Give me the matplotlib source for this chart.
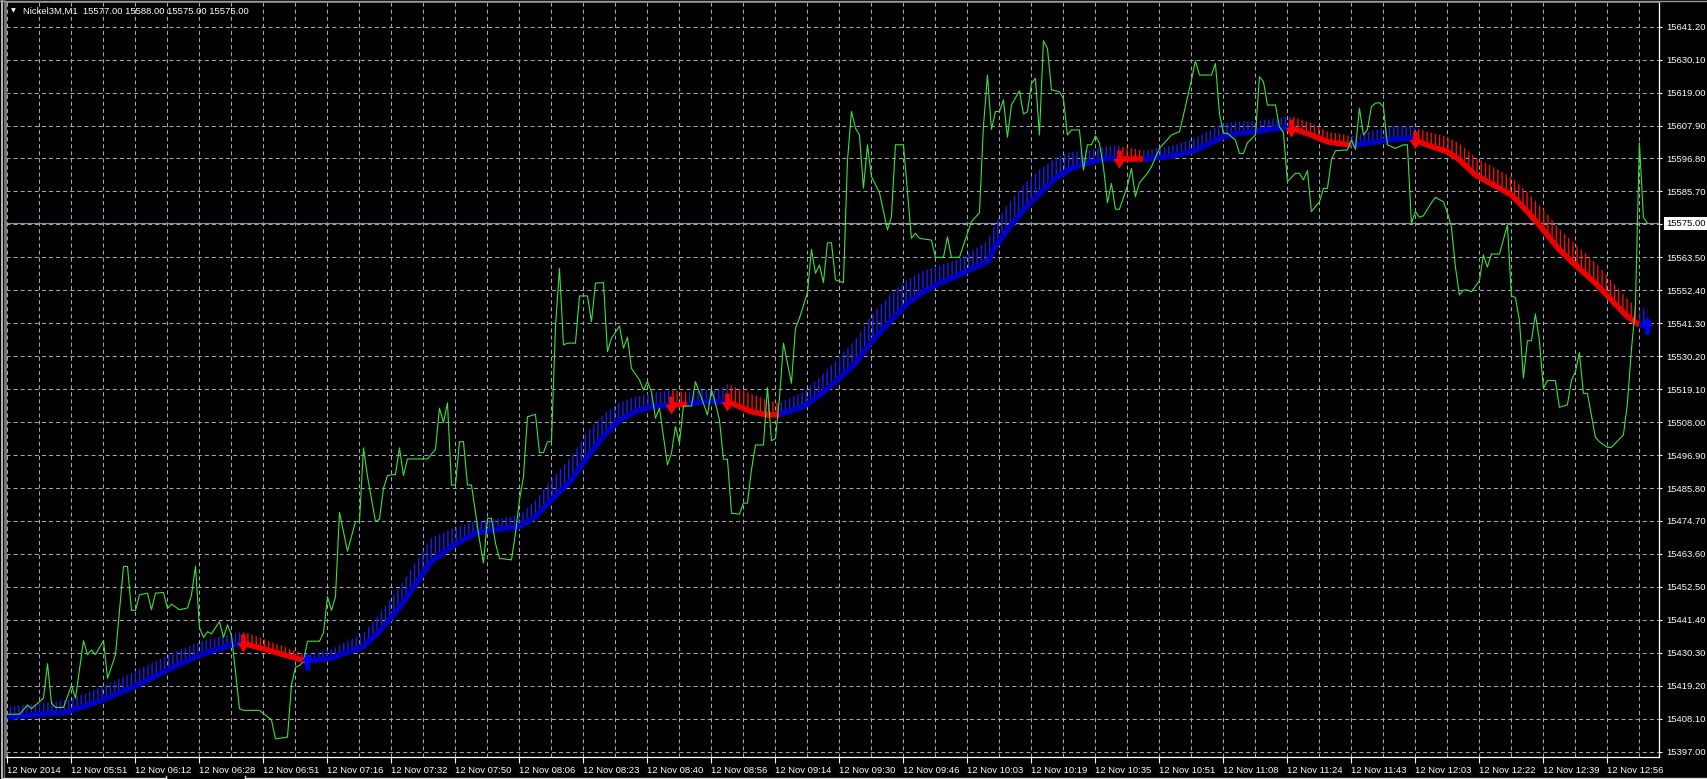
import numpy as np
import matplotlib
matplotlib.use("Agg")
import matplotlib.pyplot as plt
from matplotlib.path import Path
from matplotlib.lines import Line2D

# ---- data (bar index = minute bar, 0 = first bar on screen)
close_bar = [0, 3, 5, 6, 9, 10, 11, 12, 14, 16, 17, 19, 20, 21, 22, 24, 25, 27, 29, 30,
             31, 32, 33, 35, 36, 37, 39, 40, 41, 43, 45, 46, 47, 48, 49, 50, 51, 53, 54, 55,
             56, 58, 59, 63, 66, 67, 70, 71, 72, 73, 74, 75, 78, 79, 80, 81, 82, 83, 85, 87,
             88, 89, 90, 92, 93, 94, 95, 97, 98, 99, 100, 105, 107, 108, 109, 110, 111, 112, 113, 114,
             115, 116, 118, 119, 120, 121, 122, 123, 126, 127, 128, 129, 130, 132, 133, 134, 135, 136, 137, 138,
             139, 140, 142, 143, 145, 146, 147, 149, 150, 151, 153, 154, 155, 156, 158, 159, 160, 161, 162, 163,
             165, 166, 167, 168, 169, 171, 172, 174, 175, 176, 177, 178, 179, 180, 181, 183, 184, 185, 186, 187,
             189, 190, 191, 192, 193, 194, 196, 197, 198, 200, 201, 202, 203, 204, 205, 206, 207, 209, 210, 211,
             212, 213, 214, 215, 216, 218, 220, 221, 222, 224, 226, 227, 228, 231, 232, 234, 235, 236, 238, 240,
             241, 243, 244, 245, 246, 247, 248, 249, 250, 251, 253, 254, 255, 256, 257, 258, 259, 260, 261, 263,
             264, 265, 266, 268, 269, 270, 271, 272, 273, 274, 275, 276, 277, 278, 280, 281, 282, 283, 285, 286,
             288, 291, 293, 294, 296, 297, 298, 301, 302, 303, 304, 305, 307, 308, 309, 310, 312, 313, 314, 315,
             317, 318, 319, 320, 322, 323, 324, 325, 326, 327, 328, 329, 330, 331, 332, 335, 336, 337, 338, 339,
             340, 341, 342, 343, 344, 345, 347, 349, 350, 351, 352, 353, 354, 356, 357, 359, 360, 361, 362, 363,
             364, 365, 366, 368, 369, 370, 371, 373, 375, 376, 377, 378, 379, 380, 381, 382, 383, 384, 385, 387,
             388, 390, 391, 392, 393, 394, 395, 397, 398, 400, 401, 404, 405, 406, 407, 408, 409, 410]
close_price = [15409.6, 15409.6, 15412.7, 15411.5, 15415.0, 15426.6, 15413.3, 15411.9, 15411.9, 15419.3,
               15415.0, 15434.4, 15429.7, 15431.2, 15429.7, 15434.4, 15421.7, 15429.6, 15459.4, 15459.4,
               15444.6, 15444.6, 15449.8, 15450.4, 15444.8, 15450.4, 15450.6, 15445.2, 15446.7, 15444.8,
               15445.4, 15449.8, 15459.4, 15438.8, 15435.5, 15437.4, 15436.7, 15440.8, 15435.5, 15439.7,
               15436.2, 15411.5, 15410.9, 15410.9, 15407.7, 15401.3, 15401.9, 15419.6, 15425.4, 15426.0,
               15427.4, 15434.2, 15434.2, 15437.0, 15449.2, 15444.6, 15449.2, 15477.6, 15464.5, 15474.5,
               15474.5, 15499.3, 15489.8, 15474.5, 15475.3, 15485.7, 15490.0, 15490.4, 15499.3, 15490.0,
               15495.6, 15495.6, 15498.8, 15512.7, 15507.8, 15514.5, 15486.8, 15486.8, 15501.4, 15501.4,
               15486.8, 15486.8, 15468.3, 15460.5, 15475.6, 15475.6, 15467.2, 15462.1, 15461.6, 15470.6,
               15481.8, 15489.6, 15509.8, 15510.6, 15497.7, 15497.7, 15501.4, 15501.4, 15540.0, 15559.8,
               15534.0, 15534.6, 15534.6, 15550.5, 15550.5, 15541.8, 15554.8, 15555.0, 15531.7, 15536.2,
               15540.4, 15532.9, 15536.6, 15526.1, 15522.2, 15518.8, 15521.6, 15518.2, 15509.3, 15512.7,
               15493.6, 15497.5, 15506.5, 15500.9, 15513.4, 15513.4, 15521.6, 15514.3, 15510.4, 15518.8,
               15514.3, 15508.7, 15495.5, 15495.5, 15477.3, 15477.0, 15480.7, 15480.7, 15491.9, 15500.3,
               15500.3, 15519.7, 15501.7, 15502.5, 15516.0, 15534.6, 15521.1, 15539.6, 15543.0, 15551.6,
               15566.2, 15558.1, 15560.9, 15555.0, 15568.4, 15568.4, 15555.9, 15555.0, 15596.0, 15612.6,
               15607.0, 15604.7, 15586.8, 15601.4, 15590.7, 15585.3, 15572.7, 15577.2, 15601.4, 15601.4,
               15569.9, 15571.6, 15569.9, 15569.3, 15563.5, 15563.5, 15570.4, 15563.5, 15563.5, 15571.6,
               15575.5, 15578.5, 15607.5, 15624.9, 15606.6, 15612.6, 15612.6, 15616.5, 15603.9, 15614.8,
               15619.6, 15611.8, 15612.5, 15622.1, 15623.8, 15604.7, 15636.5, 15633.9, 15619.9, 15619.3,
               15617.0, 15604.7, 15606.4, 15606.4, 15592.9, 15601.4, 15601.4, 15604.4, 15601.9, 15594.0,
               15581.9, 15588.4, 15579.7, 15579.7, 15587.5, 15593.5, 15583.9, 15588.6, 15591.8, 15594.0,
               15600.2, 15604.7, 15605.8, 15611.4, 15623.2, 15629.7, 15624.9, 15624.9, 15628.8, 15612.0,
               15605.3, 15605.3, 15603.0, 15598.5, 15598.5, 15602.1, 15604.7, 15624.3, 15622.7, 15614.8,
               15614.8, 15607.5, 15605.5, 15589.0, 15591.8, 15591.8, 15589.6, 15592.7, 15578.9, 15580.6,
               15582.2, 15586.7, 15586.7, 15596.3, 15599.4, 15599.7, 15603.0, 15599.9, 15613.7, 15604.7,
               15606.5, 15614.2, 15615.4, 15615.6, 15614.2, 15601.4, 15600.2, 15601.4, 15601.4, 15575.0,
               15578.9, 15577.0, 15577.5, 15581.9, 15583.7, 15582.2, 15578.5, 15573.8, 15560.3, 15550.8,
               15552.5, 15552.5, 15551.9, 15555.6, 15564.3, 15560.2, 15564.6, 15564.6, 15574.4, 15550.5,
               15550.0, 15542.4, 15522.8, 15535.4, 15535.4, 15544.4, 15535.4, 15519.4, 15522.0, 15522.0,
               15513.0, 15513.8, 15522.0, 15525.0, 15531.4, 15517.7, 15517.7, 15502.9, 15501.4, 15499.5,
               15499.5, 15503.7, 15514.3, 15532.3, 15546.9, 15602.1, 15577.0, 15575.0]

# trend indicator: line value and the height of its histogram above the line
ma_bar = [0, 15, 23, 31, 40, 48, 56, 59, 75, 81, 89, 93, 98, 106, 111, 117, 124, 128, 132, 136,
          141, 145, 149, 153, 157, 161, 166, 170, 174, 178, 180, 186, 190, 193, 199, 203, 207, 212, 216, 221,
          225, 229, 233, 237, 241, 245, 247, 250, 254, 258, 262, 266, 271, 275, 278, 284, 291, 296, 300, 304,
          308, 312, 318, 321, 326, 330, 336, 341, 346, 351, 352, 355, 360, 363, 367, 372, 376, 380, 384, 388,
          392, 397, 401, 405, 408, 410]
ma_price = [15408.5, 15410.4, 15414.0, 15418.5, 15424.5, 15429.5, 15433.0, 15433.5, 15427.4, 15428.5,
            15432.4, 15437.5, 15445.5, 15461.0, 15466.0, 15470.6, 15472.2, 15472.8, 15476.1, 15481.8,
            15488.5, 15496.4, 15503.1, 15508.7, 15511.5, 15513.2, 15513.8, 15514.0, 15514.9, 15514.9,
            15514.9, 15511.5, 15510.4, 15510.5, 15513.2, 15517.1, 15521.6, 15527.8, 15535.1, 15542.4,
            15548.0, 15551.9, 15554.8, 15557.0, 15559.5, 15562.0, 15567.1, 15572.7, 15579.4, 15585.0,
            15590.1, 15593.5, 15595.7, 15596.9, 15596.5, 15596.5, 15597.6, 15599.1, 15601.4, 15604.1,
            15605.3, 15605.8, 15607.0, 15607.0, 15604.7, 15602.4, 15601.3, 15602.1, 15603.2, 15603.6,
            15603.0, 15601.3, 15599.1, 15596.3, 15591.2, 15587.5, 15584.5, 15578.9, 15572.7, 15566.0,
            15560.9, 15554.8, 15549.1, 15543.5, 15540.7, 15540.7]
ma_hist = [3.5, 4.0, 4.5, 5.0, 5.0, 4.5, 3.5, 4.0, 2.0, 3.0,
           4.5, 6.0, 7.0, 8.0, 6.0, 4.0, 3.5, 4.0, 5.5, 7.0,
           8.0, 8.5, 7.5, 6.0, 5.0, 4.5, 5.0, 4.0, 4.0, 4.0,
           6.0, 6.0, 5.0, 4.0, 5.0, 6.0, 7.0, 8.0, 9.0, 9.0,
           8.0, 7.0, 6.0, 5.5, 6.0, 7.0, 8.0, 8.5, 8.5, 8.0,
           7.0, 5.5, 4.0, 4.0, 4.5, 3.0, 3.5, 4.0, 4.5, 4.5,
           4.0, 3.5, 3.5, 4.0, 4.0, 3.5, 3.0, 4.0, 4.5, 4.0,
           4.0, 4.5, 5.0, 5.5, 6.0, 6.0, 6.0, 6.5, 7.0, 7.0,
           7.0, 7.0, 6.5, 6.0, 5.0, 6.0]

trend_start = [0, 59, 75, 166, 170, 180, 193, 278, 284, 321, 336, 352, 408]
trend_dir = ["up", "dn", "up", "dn", "up", "dn", "up", "dn", "up", "dn", "up", "dn", "up"]
down_arrow_bars = [59, 166, 180, 278, 321, 352]
up_arrow_bars = [75, 410]

price_ticks = [15397.00, 15408.10, 15419.20, 15430.30, 15441.40, 15452.50, 15463.60, 15474.70,
               15485.80, 15496.90, 15508.00, 15519.10, 15530.20, 15541.30, 15552.40, 15563.50,
               15574.60, 15585.70, 15596.80, 15607.90, 15619.00, 15630.10, 15641.20]
time_labels = ["12 Nov 2014", "12 Nov 05:51", "12 Nov 06:12", "12 Nov 06:28", "12 Nov 06:51",
               "12 Nov 07:16", "12 Nov 07:32", "12 Nov 07:50", "12 Nov 08:06", "12 Nov 08:23",
               "12 Nov 08:40", "12 Nov 08:56", "12 Nov 09:14", "12 Nov 09:30", "12 Nov 09:46",
               "12 Nov 10:03", "12 Nov 10:19", "12 Nov 10:35", "12 Nov 10:51", "12 Nov 11:08",
               "12 Nov 11:24", "12 Nov 11:43", "12 Nov 12:03", "12 Nov 12:22", "12 Nov 12:39",
               "12 Nov 12:56"]
bars_per_label = 16
bid = 15575.00
header = "Nickel3M,M1  15577.00 15588.00 15575.00 15575.00"

# ---- styling
W, H = 1707, 779
FONT = "Liberation Sans"
FS = 6.8
GRID = "#a4a8ad"
plt.rcParams["lines.scale_dashes"] = False
plt.rcParams["hatch.linewidth"] = 1.0

fig = plt.figure(figsize=(W / 100, H / 100), dpi=100, facecolor="black")
ax = fig.add_axes([6 / W, 1 - 757 / H, (1659 - 6) / W, (757 - 2) / H])
ax.set_facecolor("black")
ax.set_xlim(-0.375, 412.9)
ax.set_ylim(15395.2, 15649.5)

# grid: horizontal at every price label, vertical every half label step
label_bars = [i * bars_per_label for i in range(len(time_labels))]
ax.set_xticks(label_bars)
ax.set_xticks([b + bars_per_label / 2 for b in label_bars], minor=True)
ax.set_xticklabels(time_labels)
ax.set_yticks(price_ticks)
ax.set_yticklabels(["" if abs(p - bid) < 1 else f"{p:.2f}" for p in price_ticks])
ax.grid(which="both", color=GRID, linestyle=(0, (2.9, 2.2)), linewidth=0.75, zorder=0)
ax.set_axisbelow(True)

ax.yaxis.tick_right()
ax.tick_params(axis="y", direction="out", length=2.5, width=0.8, color="white",
               labelcolor="white", labelsize=FS, pad=2.5)
ax.tick_params(axis="x", which="major", direction="out", length=4, width=0.8, color="white",
               labelcolor="white", labelsize=FS, pad=2.5)
ax.tick_params(axis="x", which="minor", length=0)
for t in ax.get_xticklabels() + ax.get_yticklabels():
    t.set_fontfamily(FONT)
for t in ax.get_xticklabels():
    t.set_horizontalalignment("left")

for side in ("right", "bottom"):
    ax.spines[side].set_color("white")
    ax.spines[side].set_linewidth(0.9)
for side in ("left", "top"):
    ax.spines[side].set_color("#8c8c8c")
    ax.spines[side].set_linewidth(1.2)

# bid line
ax.axhline(bid, color="#8a96a3", lw=0.8, zorder=2)

# indicator histogram + line, coloured by trend
ma_b = np.array(ma_bar)
ma_v = np.array(ma_price)
ma_t = ma_v + np.array(ma_hist)
trend_end = trend_start[1:] + [ma_bar[-1]]
for s, e, d in zip(trend_start, trend_end, trend_dir):
    m = (ma_b >= s) & (ma_b <= e)
    line_c, hatch_c = ("#0000c4", "#1c1cf0") if d == "up" else ("#ec0000", "#f21010")
    ax.fill_between(ma_b[m], ma_v[m], ma_t[m], facecolor="none", edgecolor=hatch_c,
                    hatch="||||", linewidth=0, zorder=3)
    ax.plot(ma_b[m], ma_v[m], color=line_c, lw=4.0, solid_capstyle="butt", zorder=4)

# close line
ax.plot(close_bar, close_price, color="#3de03d", lw=0.8, zorder=5)

# signal arrows
down_arrow = Path([(-0.26, 1), (0.26, 1), (0.26, 0.05), (0.66, 0.05), (0, -1),
                   (-0.66, 0.05), (-0.26, 0.05), (-0.26, 1)],
                  [Path.MOVETO] + [Path.LINETO] * 6 + [Path.CLOSEPOLY])
up_arrow = Path(down_arrow.vertices * [1, -1], down_arrow.codes)
ma_at = dict(zip(ma_bar, ma_price))
ax.plot(down_arrow_bars, [ma_at[b] for b in down_arrow_bars], ls="none", marker=down_arrow,
        ms=13, color="#ff0000", mew=0, zorder=6)
ax.plot(up_arrow_bars, [ma_at[b] for b in up_arrow_bars], ls="none", marker=up_arrow,
        ms=13, color="#0000ff", mew=0, zorder=6)

# current price tag on the scale
ax.annotate(f"{bid:.2f}", xy=(1, bid), xycoords=("axes fraction", "data"),
            xytext=(5.2, 0), textcoords="offset points", ha="left", va="center",
            color="black", fontsize=FS, fontfamily=FONT, annotation_clip=False,
            bbox=dict(boxstyle="square,pad=0.22", fc="white", ec="none"))

# header
fig.text(11 / W, 1 - 11 / H, "\u25bc", color="white", fontsize=4.5, family="DejaVu Sans",
         ha="left", va="center")
fig.text(23 / W, 1 - 11.5 / H, header, color="white", fontsize=FS, family=FONT,
         ha="left", va="center")

# window frame: left edge and the tab strip along the bottom
def px_line(xs, ys, color, lw=1.0):
    fig.add_artist(Line2D([x / W for x in xs], [1 - y / H for y in ys],
                          color=color, lw=lw, transform=fig.transFigure))

px_line([1.5, 1.5], [0, 779], "#d8d8d8", 1.2)
px_line([4, 4], [0, 779], "#6e6e6e", 1.0)
px_line([0, 1707], [1, 1], "#9a9a9a", 1.0)
px_line([3, 166], [777.5, 777.5], "#d8d8d8", 1.0)
px_line([245, 1707], [777.5, 777.5], "#d8d8d8", 1.0)
px_line([166, 166], [776, 779], "#d8d8d8", 1.0)
px_line([245, 245], [776, 779], "#d8d8d8", 1.0)

fig.savefig("out.png", dpi=100, facecolor="black")
